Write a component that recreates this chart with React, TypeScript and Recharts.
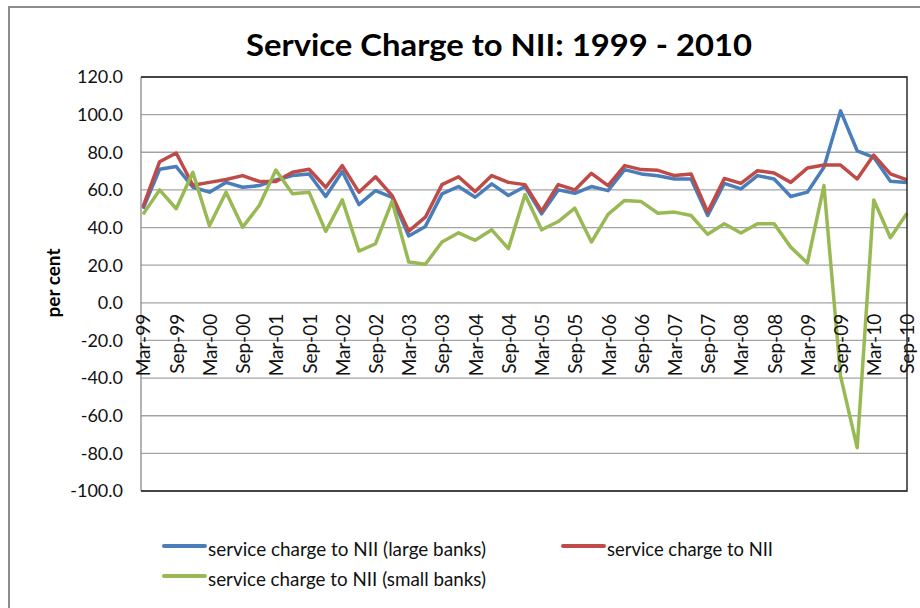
import React from 'react';
import { LineChart, Line, XAxis, YAxis, CartesianGrid, Legend } from 'recharts';

const categories = [
  'Mar-99', 'Jun-99', 'Sep-99', 'Dec-99',
  'Mar-00', 'Jun-00', 'Sep-00', 'Dec-00',
  'Mar-01', 'Jun-01', 'Sep-01', 'Dec-01',
  'Mar-02', 'Jun-02', 'Sep-02', 'Dec-02',
  'Mar-03', 'Jun-03', 'Sep-03', 'Dec-03',
  'Mar-04', 'Jun-04', 'Sep-04', 'Dec-04',
  'Mar-05', 'Jun-05', 'Sep-05', 'Dec-05',
  'Mar-06', 'Jun-06', 'Sep-06', 'Dec-06',
  'Mar-07', 'Jun-07', 'Sep-07', 'Dec-07',
  'Mar-08', 'Jun-08', 'Sep-08', 'Dec-08',
  'Mar-09', 'Jun-09', 'Sep-09', 'Dec-09',
  'Mar-10', 'Jun-10', 'Sep-10',
];

const largeBanks = [
  50, 71, 72.4, 61.4, 58.8, 64, 61.4, 62.3, 65.3, 67.6, 68.5, 56.5,
  69.8, 52.2, 59.6, 56, 35.5, 40.6, 57.9, 61.8, 56.1, 63.2, 57, 61.8,
  47.3, 60, 58.2, 61.8, 59.6, 70.8, 68.5, 67.5, 65.8, 65.8, 46.4, 63.5,
  60.5, 67.6, 65.8, 56.5, 58.8, 72, 102, 80.8, 77.3, 64.6, 64,
];

const allBanks = [
  51, 75, 79.6, 62.5, 64, 65.5, 67.6, 64.5, 64.5, 69.4, 71, 61.4,
  72.9, 58.8, 67, 57, 38.1, 45.5, 62.8, 67, 59.1, 67.6, 64, 62.8,
  48.7, 62.8, 60, 68.8, 62.3, 72.9, 70.8, 70.4, 67.6, 68.5, 48.2, 66.1,
  63.5, 70.2, 69, 64, 71.6, 73.2, 73.2, 65.8, 78.5, 68.5, 65.3,
];

const smallBanks = [
  47, 60, 50, 69.4, 41, 58.8, 40.2, 51.7, 70.6, 58, 58.8, 38,
  54.7, 27.5, 31.4, 54, 21.7, 20.5, 32.3, 37.2, 33.2, 38.8, 28.8, 57.5,
  38.8, 43.2, 50.3, 32.3, 47, 54.4, 53.8, 47.6, 48.2, 46.4, 36.4, 42,
  37.1, 42, 42, 29.6, 21.1, 62.3, -39, -77, 54.7, 34.6, 47.6,
];

const yTicks = [-100, -80, -60, -40, -20, 0, 20, 40, 60, 80, 100, 120];

const seriesNames = {
  large: 'service charge to NII (large banks)',
  total: 'service charge to NII',
  small: 'service charge to NII (small banks)',
};

const data = categories.map((cat, i) => ({
  cat,
  large: largeBanks[i],
  total: allBanks[i],
  small: smallBanks[i],
}));

const W = 920;
const H = 608;
const PLOT_TOP = 77;
const PLOT_BOTTOM = 491;
const PLOT_LEFT = 141;
const PLOT_RIGHT = 907;
const X_AXIS_H = 1;
const Y_MIN = yTicks[0];
const Y_MAX = yTicks[yTicks.length - 1];
const ZERO_Y = PLOT_TOP + ((PLOT_BOTTOM - PLOT_TOP) * (Y_MAX - 0)) / (Y_MAX - Y_MIN);

const FONT = 'Lato, "Open Sans", "Liberation Sans", sans-serif';

const XTick = (props: any) => {
  const { x, payload } = props;
  const ty = ZERO_Y + 11;
  return (
    <text
      x={x}
      y={ty}
      transform={`rotate(-90, ${x}, ${ty})`}
      textAnchor="end"
      dominantBaseline="central"
      fontSize={19}
      fontFamily={FONT}
      fill="#111"
    >
      {payload.value}
    </text>
  );
};

const legendLayout: Record<string, { lx: number; ly: number; tl: number }> = {
  large: { lx: 14, ly: 18, tl: 278 },
  total: { lx: 413, ly: 18, tl: 166 },
  small: { lx: 14, ly: 48, tl: 278 },
};

const LegendContent = (props: any) => {
  const { payload = [] } = props;
  return (
    <svg width={700} height={70} style={{ overflow: 'visible' }}>
      {payload.map((item: any) => {
        const key = item.dataKey as string;
        const pos = legendLayout[key];
        if (!pos) return null;
        return (
          <g key={key}>
            <line
              x1={pos.lx}
              x2={pos.lx + 41}
              y1={pos.ly}
              y2={pos.ly}
              stroke={item.color}
              strokeWidth={4}
              strokeLinecap="round"
            />
            <text
              x={pos.lx + 44}
              y={pos.ly + 2}
              dominantBaseline="central"
              fontSize={20}
              fontFamily={FONT}
              fill="#111"
              textLength={pos.tl}
              lengthAdjust="spacingAndGlyphs"
            >
              {item.value}
            </text>
          </g>
        );
      })}
    </svg>
  );
};

export default function App() {
  return (
    <div style={{ position: 'relative', width: W, height: H, overflow: 'hidden', background: '#fff' }}>
      <style>{'body{margin:0;}'}</style>
      <LineChart
        width={W}
        height={H}
        data={data}
        margin={{ top: PLOT_TOP, right: W - PLOT_RIGHT, bottom: H - PLOT_BOTTOM - X_AXIS_H, left: 0 }}
      >
        <CartesianGrid vertical={false} stroke="#a3a3a3" strokeWidth={1.3} />
        <XAxis
          dataKey="cat"
          interval={1}
          axisLine={false}
          tickLine={false}
          height={X_AXIS_H}
          padding={{ left: 2, right: 0 }}
          tick={(p: any) => <XTick {...p} />}
        />
        <YAxis
          width={PLOT_LEFT}
          domain={[Y_MIN, Y_MAX]}
          ticks={yTicks}
          interval={0}
          allowDataOverflow
          tickFormatter={(v: number) => v.toFixed(1)}
          axisLine={{ stroke: '#8a8a8a', strokeWidth: 1.3 }}
          tickLine={false}
          tickSize={0}
          tickMargin={18}
          tick={{ fontSize: 18, fontFamily: FONT, fill: '#111' }}
        />
        <Line
          type="linear"
          dataKey="large"
          name={seriesNames.large}
          stroke="#4a7ebb"
          strokeWidth={3.5}
          strokeLinejoin="round"
          dot={false}
          isAnimationActive={false}
        />
        <Line
          type="linear"
          dataKey="total"
          name={seriesNames.total}
          stroke="#be4b48"
          strokeWidth={3.5}
          strokeLinejoin="round"
          dot={false}
          isAnimationActive={false}
        />
        <Line
          type="linear"
          dataKey="small"
          name={seriesNames.small}
          stroke="#98b954"
          strokeWidth={3.5}
          strokeLinejoin="round"
          dot={false}
          isAnimationActive={false}
        />
        <Legend
          layout="horizontal"
          verticalAlign="middle"
          align="center"
          content={(p: any) => <LegendContent {...p} />}
          wrapperStyle={{ position: 'absolute', left: 150, top: 528, width: 700, height: 70 }}
        />
      </LineChart>
      <svg
        width={W}
        height={H}
        style={{ position: 'absolute', left: 0, top: 0, pointerEvents: 'none' }}
      >
        <line x1={9} x2={W} y1={7} y2={7} stroke="#8c8c8c" strokeWidth={2} />
        <line x1={9} x2={9} y1={6} y2={H} stroke="#8c8c8c" strokeWidth={2} />
        <polyline
          points={`${PLOT_LEFT},${PLOT_TOP} ${PLOT_RIGHT},${PLOT_TOP} ${PLOT_RIGHT},${PLOT_BOTTOM} ${PLOT_LEFT},${PLOT_BOTTOM}`}
          fill="none"
          stroke="#1e1e1e"
          strokeWidth={1.4}
        />
        <text
          x={499}
          y={56}
          textAnchor="middle"
          fontSize={31}
          fontWeight="bold"
          fontFamily={FONT}
          fill="#000"
          textLength={506}
          lengthAdjust="spacingAndGlyphs"
        >
          Service Charge to NII: 1999 - 2010
        </text>
        <text
          x={52}
          y={283}
          transform="rotate(-90, 52, 283)"
          textAnchor="middle"
          dominantBaseline="central"
          fontSize={19}
          fontWeight="bold"
          fontFamily={FONT}
          fill="#000"
        >
          per cent
        </text>
      </svg>
    </div>
  );
}
